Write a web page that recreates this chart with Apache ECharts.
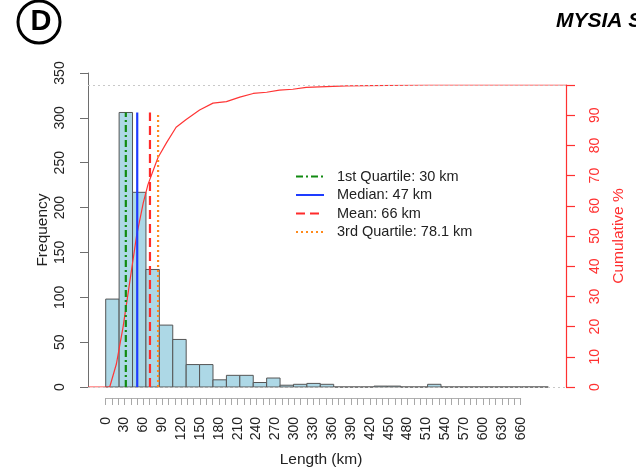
<!DOCTYPE html>
<html>
<head>
<meta charset="utf-8">
<script src="https://cdn.jsdelivr.net/npm/echarts/dist/echarts.min.js"></script>
<style>
html,body{margin:0;padding:0;background:#fff;}
#chart{width:636px;height:473px;}
</style>
</head>
<body>
<div id="chart"></div>
<script>
// ---- data ----
const binLeft = [0,20,40,60,80,100,120,140,160,180,200,220,240,260,280,300,320,340,360,380,400,420,440,460,480,500,520,540,560,580,600,620,640];
const binWidth = 20;
const counts = [98,306,217,131,69,53,25,25,8,13,13,5,10,2,3,4,3,0,0,0,1,1,0,0,3,0,0,0,0,0,0,0,0];
const cumX = [-26.4,6,16,26,36,46,56,63,73,78,91,105,120,140,160,180,200,220,240,259,279,299,359,483,686.4];
const cumY = [0,0,7.7,20,35,50,61,67,73,76,81,86,88.6,91.7,94,94.5,96,97.2,97.6,98.3,98.6,99.2,99.7,100,100];
const statNames = ['1st Quartile: 30 km','Median: 47 km','Mean: 66 km','3rd Quartile: 78.1 km'];
const statValues = [30,47,66,78.1];
const statTop = 306;
const xTickLabels = [0,30,60,90,120,150,180,210,240,270,300,330,360,390,420,450,480,510,540,570,600,630,660];
const freqTicks = [0,50,100,150,200,250,300,350];
const cumTicks = [0,10,20,30,40,50,60,70,80,90];

const FONT = 'Liberation Sans, Arial, Helvetica, sans-serif';
const statColors = ['#118a11','#1e3cff','#ff2b2b','#ff8a1c'];
const statDash = [[7,3,2,3],'solid',[9,5],[2,3]];

const chart = echarts.init(document.getElementById('chart'), null, {renderer:'canvas'});

const histData = binLeft.map((b,i)=>[b, b+binWidth, counts[i]]);
const cumData = cumX.map((x,i)=>[x, cumY[i]]);

const series = [
  {
    type:'custom', xAxisIndex:0, yAxisIndex:0, z:1,
    data: histData,
    renderItem: function(params, api){
      const p0 = api.coord([api.value(0), api.value(2)]);
      const p1 = api.coord([api.value(1), 0]);
      return {type:'rect', shape:{x:p0[0], y:p0[1], width:p1[0]-p0[0], height:p1[1]-p0[1]},
        style:{fill:'#ADD8E6', stroke:'#555555', lineWidth:1}};
    },
    silent:true
  },
  {
    type:'line', xAxisIndex:1, yAxisIndex:1, z:3,
    data: cumData, symbol:'none', smooth:false,
    lineStyle:{color:'#ff3535', width:1.2},
    markLine:{
      silent:true, symbol:['none','none'], label:{show:false},
      lineStyle:{color:'#c8c8c8', type:[2,3], width:1},
      data:[{yAxis:0},{yAxis:100}]
    }
  }
];
statValues.forEach((v,i)=>{
  series.push({
    name: statNames[i], type:'line', xAxisIndex:0, yAxisIndex:0, z:4,
    data:[[v,0],[v,statTop]], symbol:'none',
    lineStyle:{color:statColors[i], width:2.2, type:statDash[i]},
    itemStyle:{color:statColors[i], opacity:0}
  });
});

const option = {
  animation:false,
  backgroundColor:'#fff',
  textStyle:{fontFamily:FONT},
  grid:[
    {left:88, right:70, top:73, bottom:86, containLabel:false, outerBoundsMode:'none'},
    {left:88, right:70, top:85, bottom:86, containLabel:false, outerBoundsMode:'none'},
    {left:105.7, right:115.3, top:390, bottom:75, containLabel:false, outerBoundsMode:'none'}
  ],
  xAxis:[
    {type:'value', gridIndex:0, min:-26.4, max:686.4, show:false, axisLine:{onZero:false}},
    {type:'value', gridIndex:1, min:-26.4, max:686.4, show:false, axisLine:{onZero:false}},
    {type:'value', gridIndex:2, min:0, max:660, interval:10, position:'bottom',
      axisLine:{show:true, onZero:false, lineStyle:{color:'#b0b0b0', width:1}},
      axisTick:{show:true, length:7, lineStyle:{color:'#a8a8a8', width:1}},
      splitLine:{show:false},
      axisLabel:{show:true, rotate:90, margin:19, fontSize:14, color:'#222', fontFamily:FONT,
        hideOverlap:false, showMinLabel:true, showMaxLabel:true,
        formatter:function(v){ return xTickLabels.indexOf(v) >= 0 ? String(v) : ''; }}
    }
  ],
  yAxis:[
    {type:'value', gridIndex:0, min:0, max:350, interval:50, position:'left',
      axisLine:{show:true, onZero:false, lineStyle:{color:'#6e6e6e', width:1}},
      axisTick:{show:true, length:8, lineStyle:{color:'#6e6e6e'}},
      splitLine:{show:false},
      axisLabel:{rotate:90, margin:21, fontSize:14, color:'#222', fontFamily:FONT,
        formatter:function(v){ return freqTicks.indexOf(v)>=0 ? String(v) : ''; }},
      name:'Frequency', nameLocation:'middle', nameRotate:90, nameGap:37, nameMoveOverlap:false,
      nameTextStyle:{fontSize:15.5, color:'#222', fontFamily:FONT}
    },
    {type:'value', gridIndex:1, min:0, max:100, interval:10, position:'right',
      axisLine:{show:true, onZero:false, lineStyle:{color:'#ff3030', width:1.2}},
      axisTick:{show:true, length:9, lineStyle:{color:'#ff3030', width:1.2}},
      splitLine:{show:false},
      axisLabel:{rotate:90, margin:22, fontSize:14, color:'#ff3030', fontFamily:FONT,
        formatter:function(v){ return cumTicks.indexOf(v)>=0 ? String(v) : ''; }},
      name:'Cumulative %', nameLocation:'middle', nameRotate:90, nameGap:45, nameMoveOverlap:false,
      nameTextStyle:{fontSize:15.5, color:'#ff3030', fontFamily:FONT}
    },
    {type:'value', gridIndex:2, show:false, min:0, max:1, axisLine:{onZero:false}}
  ],
  legend:{
    show:true, orient:'vertical', left:295, top:169, padding:0,
    itemWidth:28, itemHeight:14, itemGap:3.5,
    data: statNames,
    itemStyle:{opacity:0},
    textStyle:{fontSize:14.5, color:'#222', fontFamily:FONT, lineHeight:14, padding:[0,0,0,8]},
    selectedMode:false
  },
  graphic:[
    {type:'circle', shape:{cx:39, cy:22, r:21}, style:{fill:'none', stroke:'#000', lineWidth:3}},
    {type:'text', x:41, y:21.5, style:{text:'D', fontSize:29, fontWeight:'bold', fontFamily:FONT, fill:'#000', align:'center', verticalAlign:'middle'}},
    {type:'text', x:556, y:21, style:{text:'MYSIA S', fontSize:21, fontWeight:'bold', fontStyle:'italic', fontFamily:FONT, fill:'#000', align:'left', verticalAlign:'middle'}},
    {type:'text', x:321, y:460, style:{text:'Length (km)', fontSize:15.5, fontFamily:FONT, fill:'#222', align:'center', verticalAlign:'middle'}}
  ],
  series: series
};
chart.setOption(option);
</script>
</body>
</html>
